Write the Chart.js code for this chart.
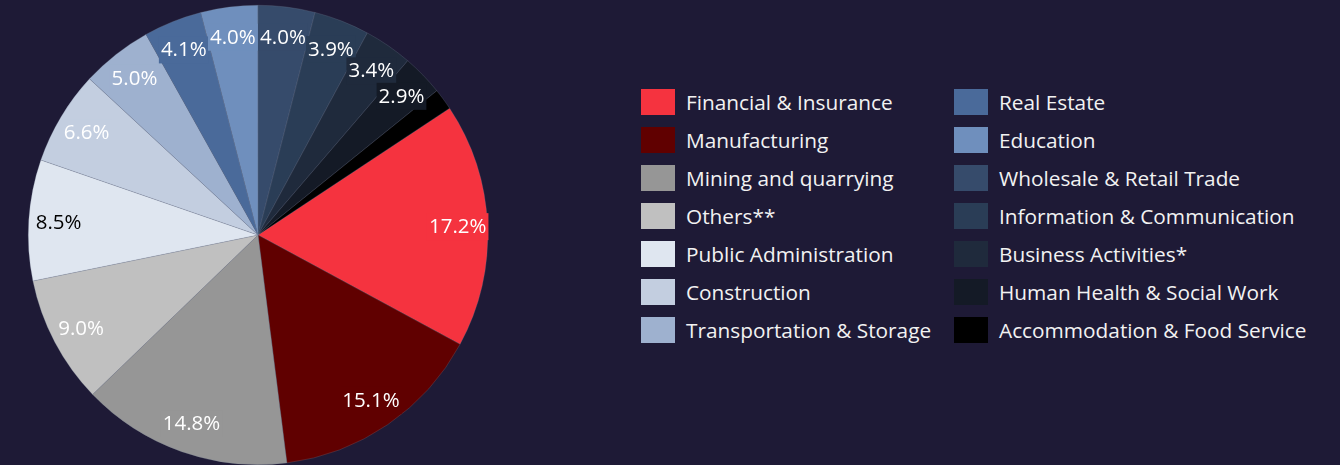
<!DOCTYPE html>
<html>
<head>
<meta charset="utf-8">
<script src="https://cdn.jsdelivr.net/npm/chart.js@4"></script>
<style>
  html, body { margin: 0; padding: 0; background: #1e1a36; }
  #wrap { position: relative; width: 1340px; height: 465px; overflow: hidden; }
  #pieBox { position: absolute; left: 0; top: 0; width: 516px; height: 465px; }
  #legend { position: absolute; left: 641px; top: 89px; display: grid;
            grid-template-columns: 313px 380px; grid-auto-flow: column;
            grid-template-rows: repeat(7, 38px); }
  .item { display: flex; align-items: center; height: 26px; color: #f2f2f2;
          font-family: "Open Sans", sans-serif; font-size: 20.8px; white-space: nowrap; }
  .sw { width: 34px; height: 26px; margin-right: 11px; flex: none; }
</style>
</head>
<body>
<div id="wrap">
  <div id="pieBox"><canvas id="sectorPie"></canvas></div>
  <div id="legend"></div>
</div>
<script>
const sectors = [
    'Financial & Insurance', 'Manufacturing', 'Mining and quarrying', 'Others**',
    'Public Administration', 'Construction', 'Transportation & Storage', 'Real Estate',
    'Education', 'Wholesale & Retail Trade', 'Information & Communication',
    'Business Activities*', 'Human Health & Social Work', 'Accommodation & Food Service'
];
const shares = [17.2, 15.1, 14.8, 9.0, 8.5, 6.6, 5.0, 4.1, 4.0, 4.0, 3.9, 3.4, 2.9, 1.5];
const sectorColors = [
    '#f5333f', '#600000', '#969696', '#c0c0c0', '#dfe6f0', '#c3cee0', '#9eb1cf',
    '#4a6a9a', '#6f8fbd', '#364b6b', '#2a3d56', '#1f2a3c', '#141a26', '#000000'
];

// légende en deux colonnes
const legendEl = document.getElementById('legend');
sectors.forEach((name, i) => {
    const row = document.createElement('div');
    row.className = 'item';
    row.innerHTML = '<span class="sw" style="background:' + sectorColors[i] + '"></span>' + name;
    legendEl.appendChild(row);
});

function isLight(hex) {
    const r = parseInt(hex.substr(1, 2), 16), g = parseInt(hex.substr(3, 2), 16), b = parseInt(hex.substr(5, 2), 16);
    return (0.299 * r + 0.587 * g + 0.114 * b) / 255 > 0.87;
}

// étiquettes de pourcentage avec fond de la couleur de la part
const sliceLabels = {
    id: 'sliceLabels',
    afterDatasetsDraw(chart) {
        const ctx = chart.ctx;
        const meta = chart.getDatasetMeta(0);
        ctx.save();
        ctx.font = '20.5px "Open Sans", sans-serif';
        ctx.textAlign = 'center';
        ctx.textBaseline = 'middle';
        meta.data.forEach((arc, i) => {
            if (shares[i] < 2) return;
            const mid = (arc.startAngle + arc.endAngle) / 2;
            const r = arc.outerRadius * 0.87;
            const x = arc.x + Math.cos(mid) * r;
            const y = arc.y + Math.sin(mid) * r;
            const txt = shares[i].toFixed(1) + '%';
            const w = ctx.measureText(txt).width + 4;
            ctx.fillStyle = sectorColors[i];
            ctx.fillRect(x - w / 2, y - 13, w, 27);
            ctx.fillStyle = isLight(sectorColors[i]) ? '#000000' : '#ffffff';
            ctx.fillText(txt, x, y + 1);
        });
        ctx.restore();
    }
};

new Chart(document.getElementById('sectorPie'), {
    type: 'pie',
    data: {
        labels: sectors,
        datasets: [{
            data: shares,
            backgroundColor: sectorColors,
            borderWidth: 0.5,
            borderColor: 'rgba(120,130,150,0.5)'
        }]
    },
    options: {
        responsive: true,
        maintainAspectRatio: false,
        animation: false,
        rotation: 56.5,
        layout: { padding: { left: 28, right: 28, top: 5, bottom: 0 } },
        plugins: {
            legend: { display: false },
            tooltip: { enabled: false }
        }
    },
    plugins: [sliceLabels]
});
</script>
</body>
</html>
